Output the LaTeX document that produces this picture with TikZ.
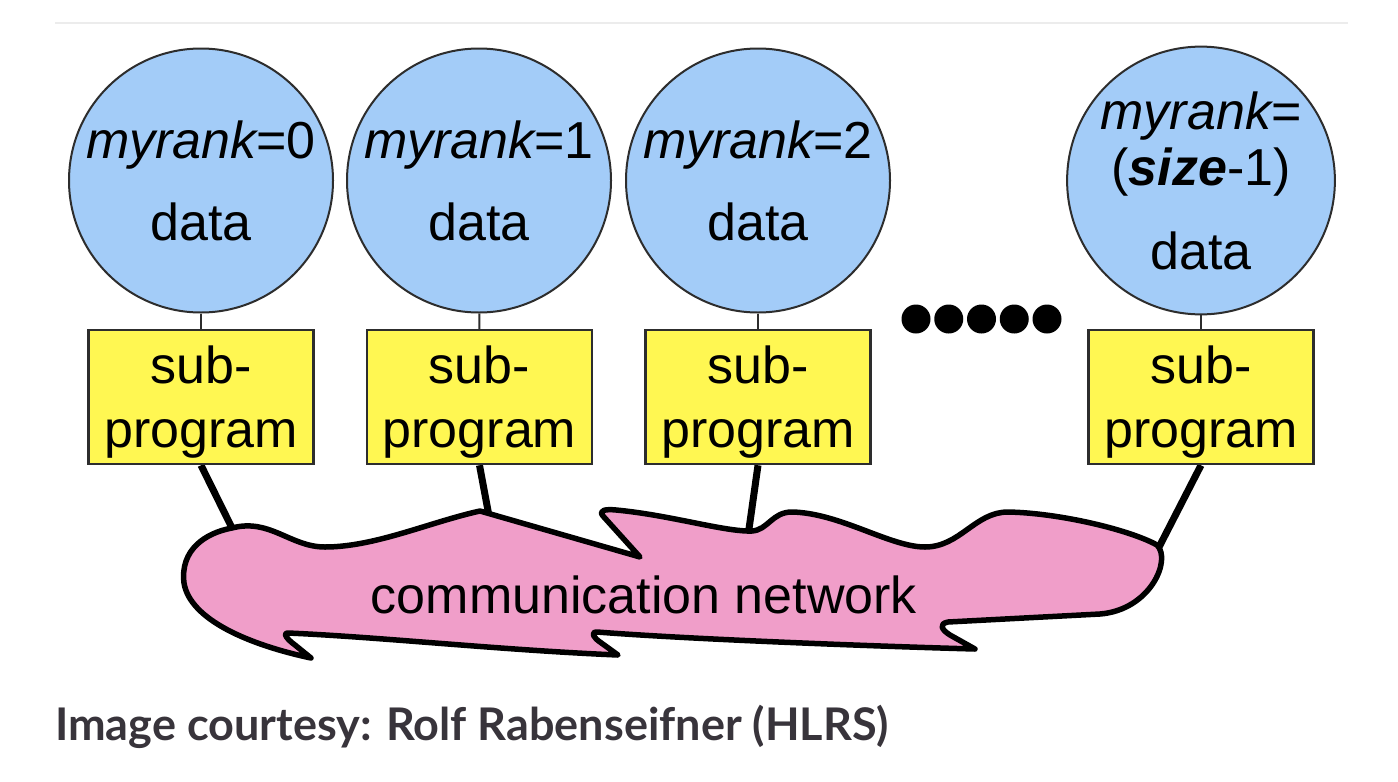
\documentclass[tikz,border=0pt]{standalone}
\usepackage{fontspec}
\setmainfont{Liberation Sans}
\newfontfamily\capfont{Lato}
\definecolor{procblue}{RGB}{163,204,248}
\definecolor{subyellow}{RGB}{255,247,82}
\definecolor{netpink}{RGB}{240,158,201}
\definecolor{edgegray}{RGB}{45,45,45}
\definecolor{captext}{RGB}{56,52,59}
\definecolor{rulegray}{RGB}{236,236,236}
\pgfdeclarelayer{linklayer}
\pgfsetlayers{linklayer,main}
\begin{document}
\begin{tikzpicture}[x=1pt,y=-1pt,
  procnode/.style={circle, draw=edgegray, line width=2pt, fill=procblue,
    minimum size=264pt, inner sep=0pt, align=center,
    font=\fontsize{52}{56}\selectfont},
  boxnode/.style={rectangle, draw=edgegray, line width=2.5pt, fill=subyellow,
    minimum width=225pt, minimum height=134pt, inner sep=0pt, align=center,
    text depth=0pt, font=\fontsize{52}{64}\selectfont},
  thinlink/.style={draw=edgegray, line width=2pt},
  thicklink/.style={draw=black, line width=7pt},
  cloudline/.style={draw=black, line width=5.5pt, fill=netpink, line join=round}
]
\useasboundingbox (0,0) rectangle (1398,782);
\begin{pgfonlayer}{linklayer}
\fill[white] (0,0) rectangle (1398,782);
\end{pgfonlayer}
\draw[rulegray, line width=1.5pt] (55,23) -- (1348,23);

% attachment points on the network cloud
\coordinate (n1) at (234,532);
\coordinate (n2) at (489,516);
\coordinate (n3) at (748,536);
\coordinate (n4) at (1157,551);

% process circles
\node[procnode] (c1) at (201,180.5) {{\itshape myrank}=0\\[26pt]data};
\node[procnode] (c2) at (479,180.5) {{\itshape myrank}=1\\[26pt]data};
\node[procnode] (c3) at (758,180.5) {{\itshape myrank}=2\\[26pt]data};
\node[procnode] (c4) at (1201,180.5) {{\itshape myrank}=\\({\bfseries\itshape size}-1)\\[28pt]data};

% sub-program boxes
\node[boxnode] (b1) at (201,397) {sub-\\program};
\node[boxnode] (b2) at (479.5,397) {sub-\\program};
\node[boxnode] (b3) at (758,397) {sub-\\program};
\node[boxnode] (b4) at (1201,397) {sub-\\program};

% thin links circle -> box
\draw[thinlink] (c1) -- (b1);
\draw[thinlink] (c2) -- (b2);
\draw[thinlink] (c3) -- (b3);
\draw[thinlink] (c4) -- (b4);

% thick links box -> network (behind boxes and cloud)
\begin{pgfonlayer}{linklayer}
\draw[thicklink] (b1.south) -- (n1);
\draw[thicklink] (b2.south) -- (n2);
\draw[thicklink] (b3.south) -- (n3);
\draw[thicklink] (b4.south) -- (n4);
\end{pgfonlayer}

% communication network cloud
\draw[cloudline] (232,528)
  .. controls (270,518) and (290,547) .. (325,547)
  .. controls (375,547) and (430,522) .. (480,511)
  -- (640,557)
  -- (603,516)
  .. controls (598,510) and (606,509) .. (616,510)
  .. controls (670,515) and (725,532) .. (752,531)
  .. controls (768,530) and (772,512) .. (792,512)
  .. controls (840,513) and (890,547) .. (925,547)
  .. controls (960,547) and (975,512) .. (1008,512)
  .. controls (1060,513) and (1130,530) .. (1157,545)
  .. controls (1172,560) and (1150,610) .. (1100,614)
  -- (948,622)
  .. controls (938,624) and (942,630) .. (950,635)
  -- (975,649)
  .. controls (900,647) and (700,640) .. (597,632)
  .. controls (590,632) and (594,638) .. (600,642)
  -- (618,655)
  .. controls (500,650) and (380,637) .. (288,633)
  .. controls (282,633) and (288,640) .. (295,645)
  -- (311,658)
  .. controls (250,645) and (190,620) .. (184,583)
  .. controls (180,550) and (205,533) .. (232,528) -- cycle;
\node[anchor=base, font=\fontsize{52}{60}\selectfont] (net) at (644,613) {communication network};

% ellipsis dots
\foreach \i in {0,...,4} \fill[black] (916+\i*32.75,319) circle[radius=14.5];

% caption
\node[anchor=base west, inner sep=0pt, text=captext,
  font=\capfont\bfseries\fontsize{45}{54}\selectfont] (cap) at (55,740)
  {Image courtesy: Rolf Rabenseifner (HLRS)};
\end{tikzpicture}
\end{document}
